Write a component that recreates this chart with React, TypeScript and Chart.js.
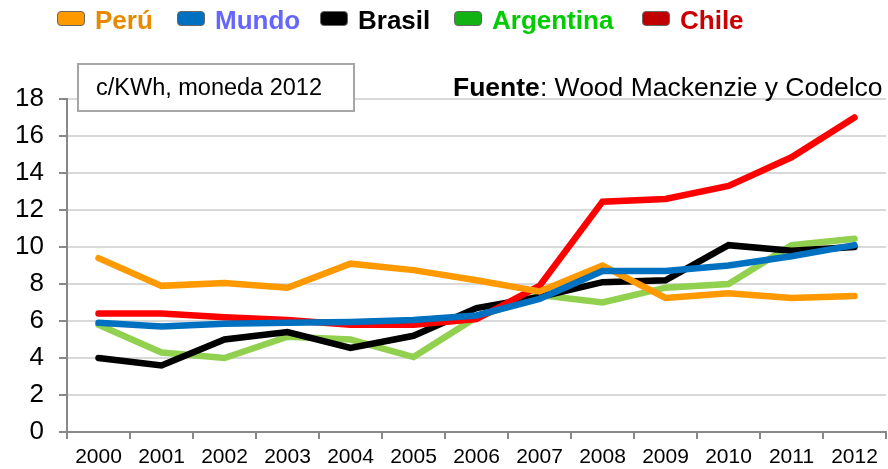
import React, { useEffect, useRef } from "react";
import { Chart, registerables } from "chart.js";

Chart.register(...registerables);

const years = ["2000","2001","2002","2003","2004","2005","2006","2007","2008","2009","2010","2011","2012"];
const peru = [9.4, 7.9, 8.05, 7.8, 9.1, 8.75, 8.2, 7.6, 9.0, 7.25, 7.5, 7.25, 7.35];
const mundo = [5.9, 5.7, 5.85, 5.9, 5.95, 6.05, 6.3, 7.2, 8.7, 8.7, 9.0, 9.5, 10.1];
const brasil = [4.0, 3.6, 5.0, 5.4, 4.55, 5.2, 6.7, 7.3, 8.1, 8.2, 10.1, 9.8, 10.0];
const argentina = [5.8, 4.3, 4.0, 5.15, 5.0, 4.05, 6.2, 7.4, 7.0, 7.8, 8.0, 10.1, 10.45];
const chile = [6.4, 6.4, 6.2, 6.05, 5.8, 5.8, 6.1, 7.9, 12.45, 12.6, 13.3, 14.85, 17.0];

const legendItems = [
  { label: "Perú", box: "#FF9900", text: "#E88A00", x: 57 },
  { label: "Mundo", box: "#0070C0", text: "#6666FF", x: 177 },
  { label: "Brasil", box: "#000000", text: "#000000", x: 320 },
  { label: "Argentina", box: "#13B213", text: "#00CC00", x: 454 },
  { label: "Chile", box: "#C00000", text: "#CC0000", x: 642 },
];

export default function App() {
  const ref = useRef<HTMLCanvasElement>(null);
  useEffect(() => {
    if (!ref.current) return;
    const mk = (data: number[], color: string, order: number) => ({
      data,
      order,
      borderColor: color,
      backgroundColor: color,
      borderWidth: 6.5,
      pointRadius: 0,
      tension: 0,
      borderCapStyle: "round" as const,
      borderJoinStyle: "miter" as const,
    });
    const chart = new Chart(ref.current, {
      type: "line",
      data: {
        labels: years,
        datasets: [
          mk(peru, "#FF9900", 2),
          mk(mundo, "#0070C0", 1),
          mk(brasil, "#000000", 4),
          mk(argentina, "#92D050", 5),
          mk(chile, "#FF0000", 3),
        ],
      },
      options: {
        animation: false,
        responsive: false,
        layout: { padding: { top: 99, right: 2, left: 0, bottom: 0 } },
        plugins: { legend: { display: false }, tooltip: { enabled: false } },
        scales: {
          x: {
            offset: true,
            grid: { color: "rgba(0,0,0,0)", tickColor: "#888888", tickLength: 7, offset: true, drawOnChartArea: false, lineWidth: 2 },
            border: { color: "#888888", width: 2 },
            ticks: { color: "#000", font: { family: "Liberation Sans, Arial, sans-serif", size: 21 }, padding: 6, maxRotation: 0, autoSkip: false },
            afterFit: (s: any) => { s.height = 37; },
          },
          y: {
            min: 0,
            max: 18,
            ticks: { stepSize: 2, color: "#000", font: { family: "Liberation Sans, Arial, sans-serif", size: 26 }, padding: 15 },
            grid: { color: "#D9D9D9", lineWidth: 2, tickColor: "#888888", tickLength: 8 },
            border: { color: "#888888", width: 2 },
            afterFit: (s: any) => { s.width = 67; },
          },
        },
      },
    });
    return () => chart.destroy();
  }, []);

  return (
    <div style={{ position: "fixed", left: 0, top: 0, width: 888, height: 469, background: "#fff", fontFamily: "Liberation Sans, Arial, sans-serif" }}>
      <canvas ref={ref} width={888} height={469} style={{ position: "absolute", left: 0, top: 0 }} />
      {legendItems.map((it) => (
        <div key={it.label} style={{ position: "absolute", left: it.x, top: 11, height: 15 }}>
          <div style={{ position: "absolute", left: 0, top: 0, width: 26, height: 13, background: it.box, border: "1px solid #666", borderRadius: 4 }} />
          <span style={{ position: "absolute", left: 38, top: -6, lineHeight: "30px", fontWeight: "bold", fontSize: 26, color: it.text, whiteSpace: "nowrap" }}>{it.label}</span>
        </div>
      ))}
      <div style={{ position: "absolute", left: 77, top: 63, width: 274, height: 45, border: "2px solid #A6A6A6", boxSizing: "content-box", background: "#fff" }}>
        <span style={{ position: "absolute", left: 17, top: 8, fontSize: 23.5, lineHeight: "28px", color: "#000", whiteSpace: "nowrap" }}>c/KWh, moneda 2012</span>
      </div>
      <div style={{ position: "absolute", left: 453, top: 72, fontSize: 26.5, lineHeight: "30px", color: "#000", whiteSpace: "nowrap" }}>
        <b>Fuente</b>: Wood Mackenzie y Codelco
      </div>
    </div>
  );
}
